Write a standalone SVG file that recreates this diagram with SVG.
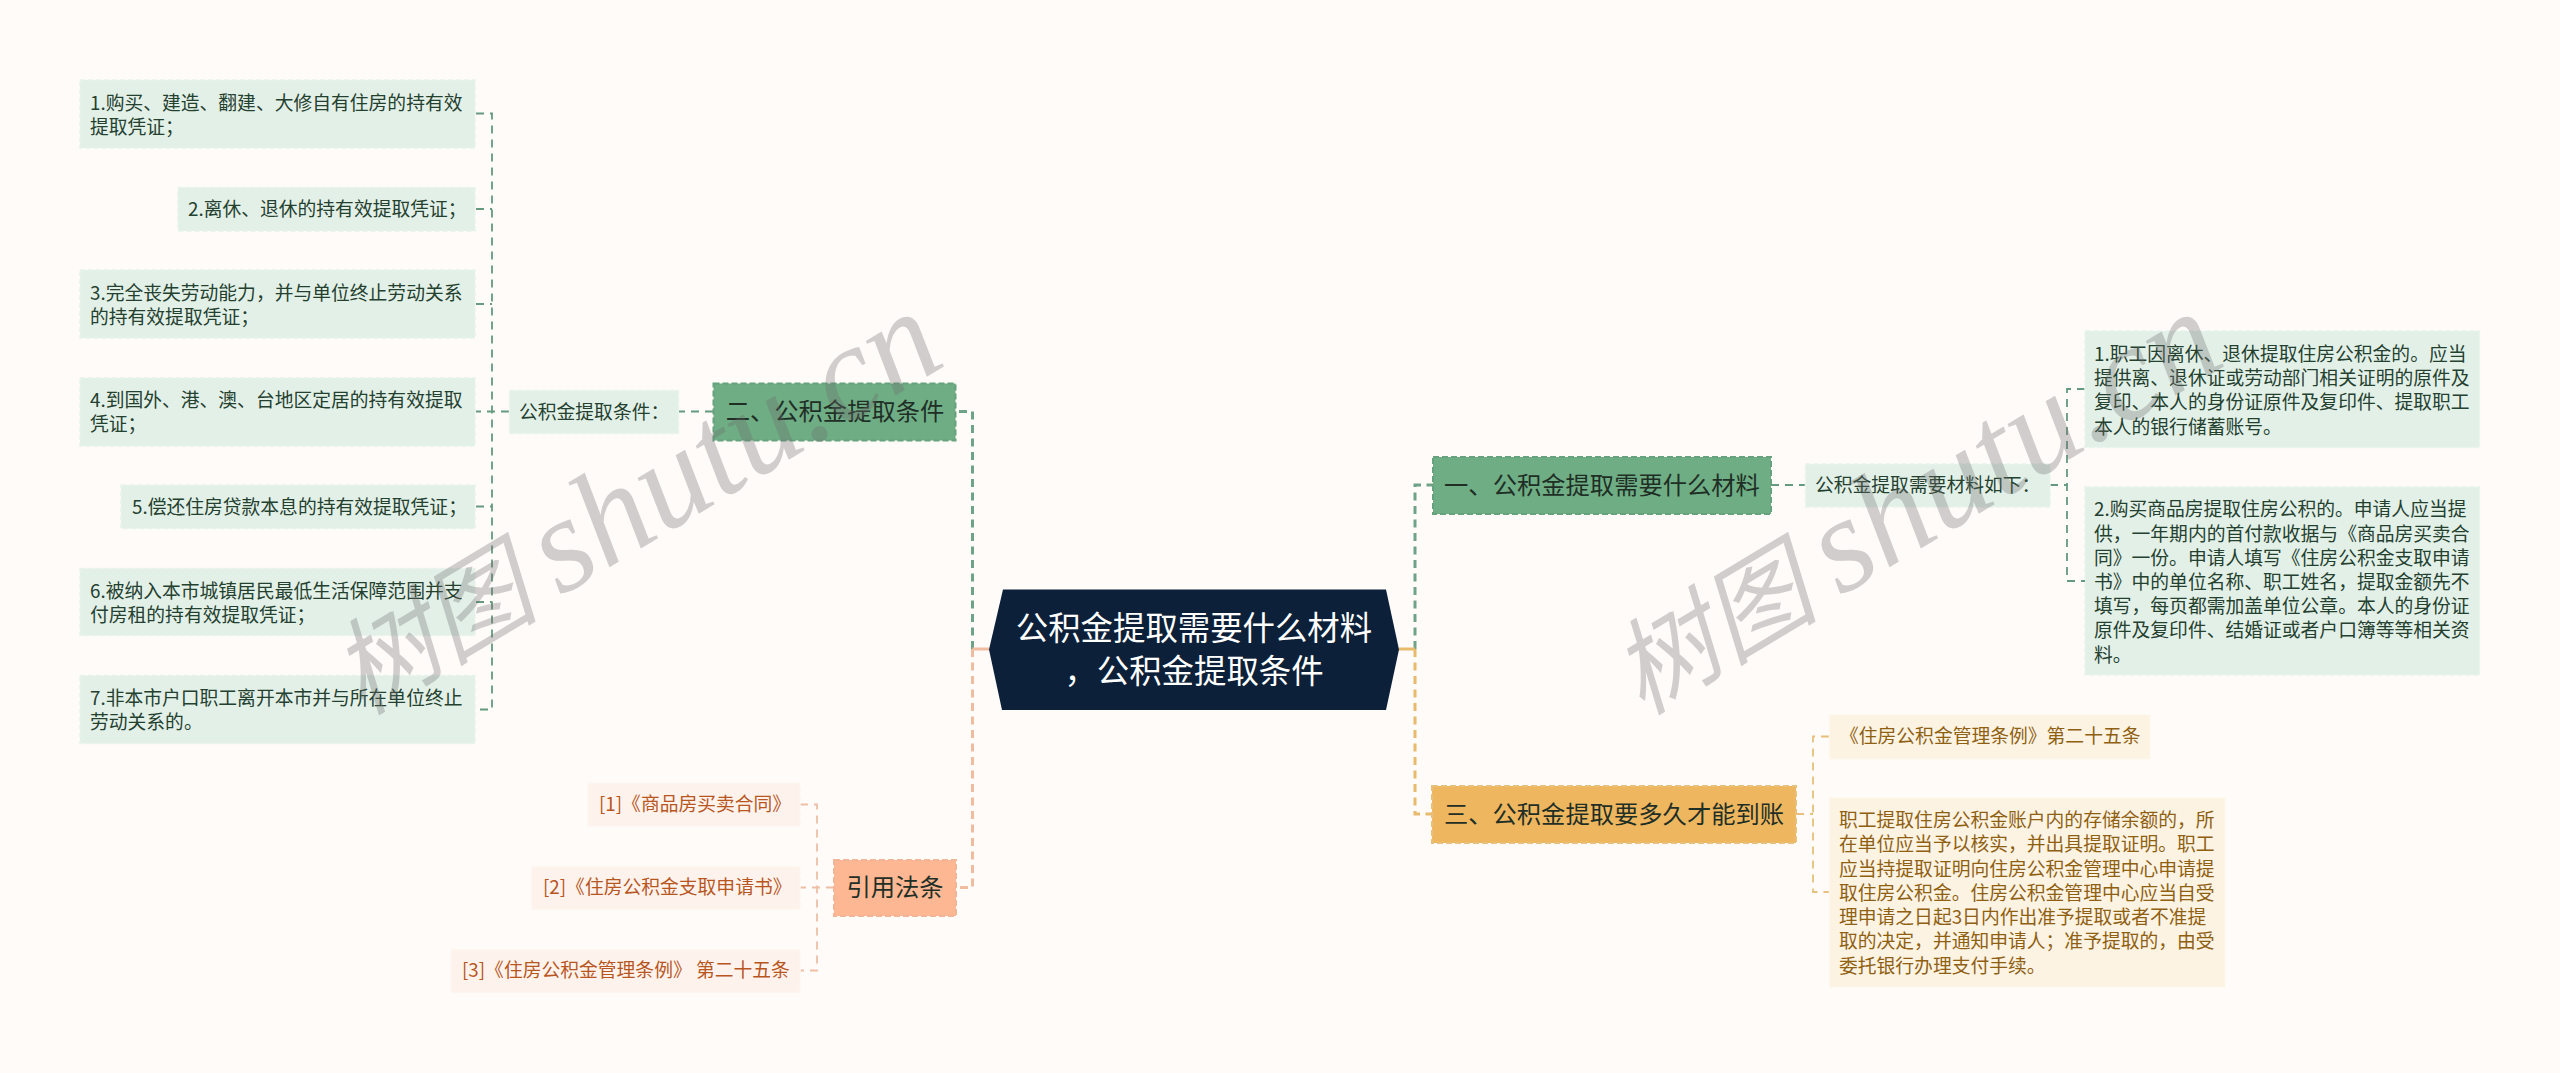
<svg xmlns="http://www.w3.org/2000/svg" width="2560" height="1073" viewBox="0 0 2560 1073">
<style>
text{font-family:"Noto Sans CJK SC","Noto Sans",sans-serif}
.c{fill:none;stroke-width:3;stroke-dasharray:8 5.500}
.s{fill:none;stroke-width:3}
.cg{stroke:#6fa387}.co{stroke:#efbca0}.cy{stroke:#e8ba6c}
.leaf{stroke-width:1.800;stroke-dasharray:8 6}
.lgc{stroke:#649a7e}.loc{stroke:#eebfa5}.lyc{stroke:#e6c07c}
.b{stroke-width:2;stroke-dasharray:6 3}
.lg rect{fill:#e3f0e8;stroke:#e8f3ec;stroke-width:1.500;stroke-dasharray:5 3}
.lo rect{fill:#fdf3ec;stroke:#fdf6f0;stroke-width:1.500;stroke-dasharray:5 3}
.ly rect{fill:#fcf3e2;stroke:#fdf6ea;stroke-width:1.500;stroke-dasharray:5 3}
.lg text{fill:#24402f;font-size:18.8px}
.lo text{fill:#b8561f;font-size:18.8px}
.ly text{fill:#8f5f12;font-size:18.8px}
.bt{font-size:24.3px;fill:#1f2f26}
.wm{font-size:104px;fill:#6e6e6e;fill-opacity:.32;font-style:italic}
.wm tspan{font-family:"Liberation Serif",serif;font-size:135px}
</style>
<rect width="2560" height="1073" fill="#fffbf9"/>
<g id="connectors">
<path class="c cg" d="M972.500 649V411.500H956"/>
<path class="c co" d="M972.500 649V887.500H956"/>
<path class="c cg" d="M1415 649V485H1433"/>
<path class="c cy" d="M1415 649V814H1432"/>
<path class="s co" d="M972.500 649H989"/>
<path class="s cy" d="M1399 649H1415"/>
<path class="c lgc leaf" d="M713 411.500H679"/>
<path class="c lgc leaf" d="M509 411.500H476M476 113.500H492V709.500H476M476 209H492M476 304H492M476 506.500H492M476 602H492"/>
<path class="c loc leaf" d="M834 887.500H800M800 804.500H817V970.500H800"/>
<path class="c lgc leaf" d="M1771 485H1805M2050 485H2067M2085 389H2067V581H2085"/>
<path class="c lyc leaf" d="M1796 814H1813M1829 736.500H1813V892H1829"/>
</g>
<g id="root"><path d="M1003 589.500H1386L1399 649.500L1386 710H1002L989 649.500Z" fill="#0c2139"/>
<text x="1194" y="640" text-anchor="middle" font-size="32.400" fill="#fff">公积金提取需要什么材料</text>
<text x="1194" y="683" text-anchor="middle" font-size="32.400" fill="#fff">，公积金提取条件</text></g>
<g id="n-conditions"><rect x="713.500" y="383.500" width="242" height="57" fill="#6fad84" stroke="#66a27e" class="b"/><text class="bt" x="835" y="420" text-anchor="middle">二、公积金提取条件</text></g>
<g id="n-materials"><rect x="1433" y="457" width="338" height="57" fill="#6fad84" stroke="#66a27e" class="b"/><text class="bt" x="1602" y="494" text-anchor="middle">一、公积金提取需要什么材料</text></g>
<g id="n-time"><rect x="1432" y="786" width="364" height="57" fill="#eeb75f" stroke="#e6c07c" class="b"/><text class="bt" x="1614" y="823" text-anchor="middle">三、公积金提取要多久才能到账</text></g>
<g id="n-law"><rect x="834" y="860" width="122" height="56" fill="#fdb893" stroke="#f2b595" class="b"/><text class="bt" x="895" y="896" text-anchor="middle">引用法条</text></g>
<g id="l-cond" class="lg"><rect x="509.500" y="390.500" width="169" height="43"/><text x="519" y="419">公积金提取条件：</text></g>
<g id="l1" class="lg"><rect x="80" y="80" width="395" height="68"/><text x="90" y="110">1.购买、建造、翻建、大修自有住房的持有效</text><text x="90" y="134">提取凭证；</text></g>
<g id="l2" class="lg"><rect x="178" y="187.500" width="297" height="43.500"/><text x="188" y="216">2.离休、退休的持有效提取凭证；</text></g>
<g id="l3" class="lg"><rect x="80" y="270" width="395" height="68"/><text x="90" y="300">3.完全丧失劳动能力，并与单位终止劳动关系</text><text x="90" y="324">的持有效提取凭证；</text></g>
<g id="l4" class="lg"><rect x="80" y="378" width="395" height="68"/><text x="90" y="407">4.到国外、港、澳、台地区定居的持有效提取</text><text x="90" y="431">凭证；</text></g>
<g id="l5" class="lg"><rect x="121" y="485" width="354" height="43.500"/><text x="132" y="514">5.偿还住房贷款本息的持有效提取凭证；</text></g>
<g id="l6" class="lg"><rect x="80" y="568.500" width="395" height="67"/><text x="90" y="598">6.被纳入本市城镇居民最低生活保障范围并支</text><text x="90" y="622">付房租的持有效提取凭证；</text></g>
<g id="l7" class="lg"><rect x="80" y="675.500" width="395" height="68"/><text x="90" y="705">7.非本市户口职工离开本市并与所在单位终止</text><text x="90" y="729">劳动关系的。</text></g>
<g id="r1" class="lo"><rect x="588" y="783" width="212" height="43"/><text x="599" y="811">[1]《商品房买卖合同》</text></g>
<g id="r2" class="lo"><rect x="531.500" y="866.500" width="268.500" height="43"/><text x="543" y="894">[2]《住房公积金支取申请书》</text></g>
<g id="r3" class="lo"><rect x="451" y="949.500" width="349" height="43"/><text x="462" y="977">[3]《住房公积金管理条例》 第二十五条</text></g>
<g id="l-mat" class="lg"><rect x="1805.500" y="464" width="244.500" height="43"/><text x="1815" y="492">公积金提取需要材料如下：</text></g>
<g id="m1" class="lg"><rect x="2085" y="331" width="394.500" height="116.500"/><text x="2094" y="361">1.职工因离休、退休提取住房公积金的。应当</text><text x="2094" y="385">提供离、退休证或劳动部门相关证明的原件及</text><text x="2094" y="409">复印、本人的身份证原件及复印件、提取职工</text><text x="2094" y="434">本人的银行储蓄账号。</text></g>
<g id="m2" class="lg"><rect x="2085" y="487" width="394.500" height="188"/><text x="2094" y="516">2.购买商品房提取住房公积的。申请人应当提</text><text x="2094" y="541">供，一年期内的首付款收据与《商品房买卖合</text><text x="2094" y="565">同》一份。申请人填写《住房公积金支取申请</text><text x="2094" y="589">书》中的单位名称、职工姓名，提取金额先不</text><text x="2094" y="613">填写，每页都需加盖单位公章。本人的身份证</text><text x="2094" y="637">原件及复印件、结婚证或者户口簿等等相关资</text><text x="2094" y="662">料。</text></g>
<g id="t1" class="ly"><rect x="1829.500" y="715" width="320.500" height="44"/><text x="1840" y="743">《住房公积金管理条例》第二十五条</text></g>
<g id="t2" class="ly"><rect x="1829.500" y="798" width="395.500" height="189"/><text x="1839" y="827">职工提取住房公积金账户内的存储余额的，所</text><text x="1839" y="851">在单位应当予以核实，并出具提取证明。职工</text><text x="1839" y="876">应当持提取证明向住房公积金管理中心申请提</text><text x="1839" y="900">取住房公积金。住房公积金管理中心应当自受</text><text x="1839" y="924">理申请之日起3日内作出准予提取或者不准提</text><text x="1839" y="948">取的决定，并通知申请人；准予提取的，由受</text><text x="1839" y="973">委托银行办理支付手续。</text></g>
<g id="watermark"><text class="wm" transform="translate(362 716) rotate(-31)">树图 <tspan>shutu.cn</tspan></text><text class="wm" transform="translate(1642 716) rotate(-31)">树图 <tspan>shutu.cn</tspan></text></g>
</svg>
